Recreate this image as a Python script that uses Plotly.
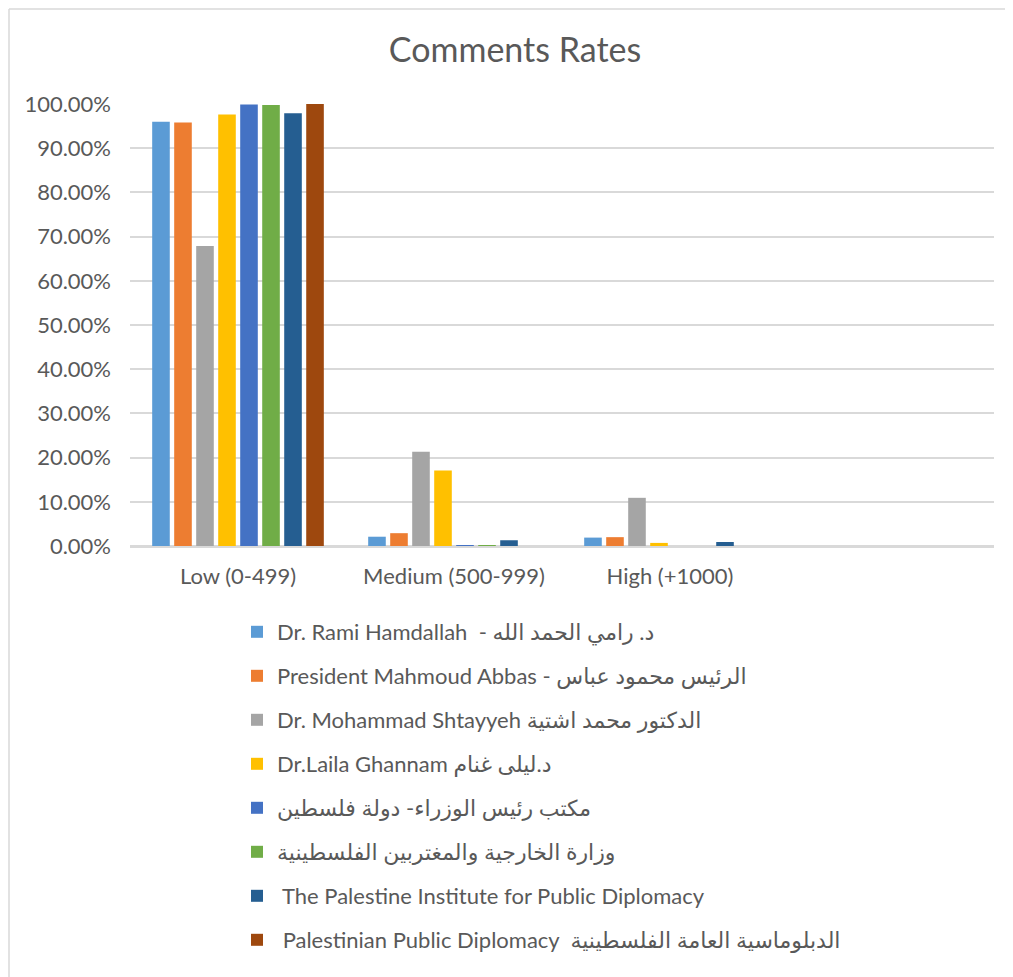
"""Comments Rates - grouped bar chart of comment-count buckets per page"""

import plotly.graph_objects as go

# Categories on the x axis (the last slot is left empty, as in the source chart)
categories = ["Low (0-499)", "Medium (500-999)", "High (+1000)", " "]

series_names = [
    "Dr. Rami Hamdallah  - د. رامي الحمد الله",
    "President Mahmoud Abbas - الرئيس محمود عباس",
    "Dr. Mohammad Shtayyeh الدكتور محمد اشتية",
    "Dr.Laila Ghannam د.ليلى غنام",
    "مكتب رئيس الوزراء- دولة فلسطين",
    "وزارة الخارجية والمغتربين الفلسطينية",
    " The Palestine Institute for Public Diplomacy",
    " Palestinian Public Diplomacy  الدبلوماسية العامة الفلسطينية",
]

colors = ["#5B9BD5", "#ED7D31", "#A5A5A5", "#FFC000",
          "#4472C4", "#70AD47", "#255E91", "#9E480E"]

# Share of posts per bucket, one value per series
low_vals = [0.960, 0.958, 0.679, 0.976, 0.999, 0.998, 0.979, 1.000]
medium_vals = [0.021, 0.029, 0.213, 0.171, 0.001, 0.001, 0.013, 0.000]
high_vals = [0.019, 0.020, 0.109, 0.007, 0.000, 0.000, 0.009, 0.000]

FONT = "Lato, 'DejaVu Sans', sans-serif"
TEXT = "#595959"
GRID = "#D9D9D9"

# Figure size (the page body adds an 8px margin around it)
W, H = 997, 977
L, R, T, B = 122, 11, 96, 439
pw, ph = W - L - R, H - T - B

fig = go.Figure()

for i, name in enumerate(series_names):
    fig.add_trace(go.Bar(
        x=categories,
        y=[low_vals[i], medium_vals[i], high_vals[i], None],
        name=name,
        legendgroup=f"g{i}",
        marker=dict(color=colors[i], line=dict(width=0)),
    ))

# Outer chart frame (top and left edges visible)
top_y = (H - B - 1) / ph
left_x = (1 - L) / pw
fig.add_shape(type="line", xref="paper", yref="paper",
              x0=left_x, x1=(W - L) / pw, y0=top_y, y1=top_y,
              line=dict(color=GRID, width=1.5))
fig.add_shape(type="line", xref="paper", yref="paper",
              x0=left_x, x1=left_x, y0=top_y, y1=-(B + 5) / ph,
              line=dict(color=GRID, width=1.5))

fig.update_layout(
    width=W,
    height=H,
    margin=dict(l=L, r=R, t=T, b=B),
    paper_bgcolor="white",
    plot_bgcolor="white",
    font=dict(family=FONT, color=TEXT, size=21),
    title=dict(text="Comments Rates", x=507 / W, xanchor="center",
               y=1 - 42 / H, yanchor="middle",
               font=dict(size=34, color=TEXT, family=FONT)),
    barmode="group",
    bargap=0.185,
    bargroupgap=0.2,
    showlegend=True,
    legend=dict(
        orientation="v",
        x=(229 - L) / pw, xanchor="left",
        y=(H - B - 603) / ph, yanchor="top",
        tracegroupgap=12.4,
        font=dict(size=22, color=TEXT, family=FONT),
        bgcolor="rgba(0,0,0,0)",
    ),
    xaxis=dict(
        type="category",
        categoryorder="array",
        categoryarray=categories,
        range=[-0.5, 3.5],
        showgrid=False,
        showline=True,
        linecolor=GRID,
        linewidth=1.5,
        ticks="",
        ticklabelstandoff=10,
        tickfont=dict(size=22, color=TEXT),
    ),
    yaxis=dict(
        range=[0, 1.0],
        dtick=0.1,
        tickformat=".2%",
        showgrid=True,
        gridcolor=GRID,
        gridwidth=1.5,
        zeroline=True,
        zerolinecolor=GRID,
        zerolinewidth=1.5,
        showline=False,
        ticks="",
        ticklabelstandoff=18,
        tickfont=dict(size=22, color=TEXT),
    ),
)

fig.write_html("out.html")
